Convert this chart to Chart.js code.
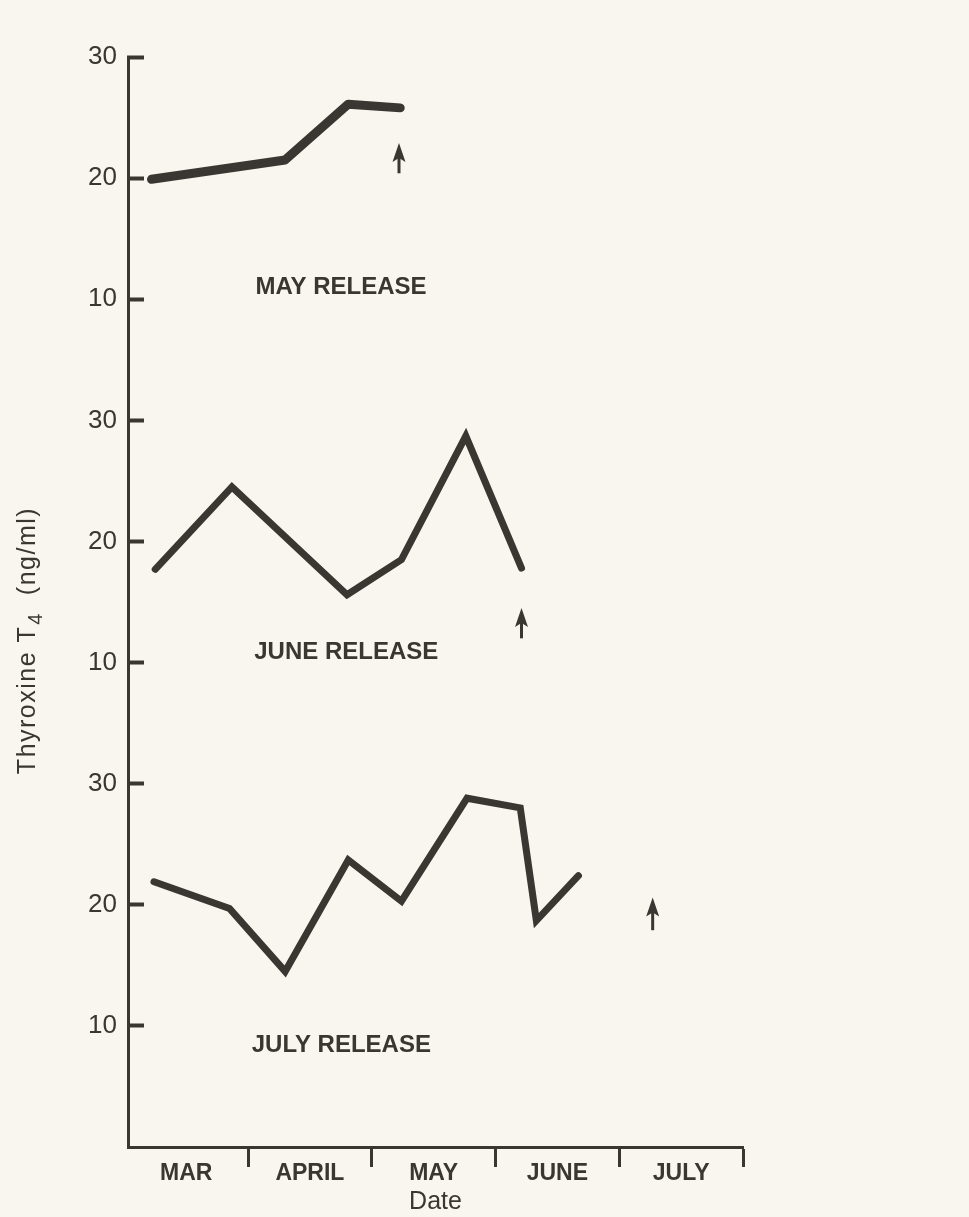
<!DOCTYPE html>
<html>
<head>
<meta charset="utf-8">
<script src="https://cdn.jsdelivr.net/npm/chart.js@4/dist/chart.umd.min.js"></script>
<style>
  html, body { margin: 0; padding: 0; background: #f8f6ee; }
  canvas { display: block; }
</style>
</head>
<body>
<canvas id="t4-chart" width="969" height="1217"></canvas>
<script>
// months counted from 1 March (0 = Mar 1, 1 = Apr 1, ...)
const monthLabels = ['MAR', 'APRIL', 'MAY', 'JUNE', 'JULY'];
const yTickValues = [10, 20, 30];

// May release
const mayX = [0.22, 1.30, 1.81, 2.23];
const mayY = [19.9, 21.5, 26.1, 25.8];
// June release
const juneX = [0.25, 0.87, 1.80, 2.24, 2.76, 3.21];
const juneY = [17.7, 24.5, 15.6, 18.5, 28.7, 17.8];
// July release
const julyX = [0.24, 0.85, 1.30, 1.81, 2.24, 2.77, 3.20, 3.33, 3.67];
const julyY = [21.9, 19.7, 14.5, 23.7, 20.3, 28.8, 28.0, 18.7, 22.4];

const panelNames = ['MAY RELEASE', 'JUNE RELEASE', 'JULY RELEASE'];
const panelOffsets = [60, 30, 0];   // panels stacked on one value axis
const nameX = [1.06, 1.05, 1.03];
const nameY = [11.0, 10.8, 8.4];

// release arrows: x position, tail and tip values
const arrowX = [2.22, 3.21, 4.27];
const arrowTail = [20.4, 12.0, 17.9];
const arrowTip = [22.9, 14.5, 20.6];

const ink = '#3a3632';
const font = 'Liberation Sans, Arial, Helvetica, sans-serif';

function series(xs, ys, offset) {
    return xs.map((x, i) => ({ x: x, y: ys[i] + offset }));
}

const annotations = {
    id: 'annotations',
    afterDatasetsDraw(chart) {
        const ctx = chart.ctx;
        const xs = chart.scales.x, ys = chart.scales.y;
        ctx.save();
        ctx.fillStyle = ink;
        ctx.strokeStyle = ink;

        // panel names
        ctx.font = 'bold 24px ' + font;
        ctx.textAlign = 'left';
        ctx.textBaseline = 'middle';
        panelNames.forEach((name, i) => {
            ctx.fillText(name, xs.getPixelForValue(nameX[i]), ys.getPixelForValue(nameY[i] + panelOffsets[i]));
        });

        // release arrows
        arrowX.forEach((ax, i) => {
            const px = xs.getPixelForValue(ax);
            const tail = ys.getPixelForValue(arrowTail[i] + panelOffsets[i]);
            const tip = ys.getPixelForValue(arrowTip[i] + panelOffsets[i]);
            ctx.lineWidth = 3;
            ctx.beginPath();
            ctx.moveTo(px, tail);
            ctx.lineTo(px, tip + 10);
            ctx.stroke();
            ctx.beginPath();
            ctx.moveTo(px, tip);
            ctx.lineTo(px + 6.5, tip + 19);
            ctx.lineTo(px, tip + 15);
            ctx.lineTo(px - 6.5, tip + 19);
            ctx.closePath();
            ctx.fill();
        });

        // y axis title with subscript
        ctx.translate(28, 641);
        ctx.rotate(-Math.PI / 2);
        ctx.textBaseline = 'middle';
        ctx.letterSpacing = '1.5px';
        const a = 'Thyroxine T', b = '4', c = '  (ng/ml)';
        ctx.font = '25px ' + font;
        const wa = ctx.measureText(a).width, wc = ctx.measureText(c).width;
        ctx.font = '20px ' + font;
        const wb = ctx.measureText(b).width;
        const x0 = -(wa + wb + wc) / 2;
        ctx.font = '25px ' + font;
        ctx.fillText(a, x0, 0);
        ctx.font = '20px ' + font;
        ctx.fillText(b, x0 + wa + 1, 8);
        ctx.font = '25px ' + font;
        ctx.fillText(c, x0 + wa + wb + 1, 0);
        ctx.restore();
    }
};

const lineStyle = {
    borderColor: ink,
    borderWidth: 7,
    borderCapStyle: 'round',
    borderJoinStyle: 'miter',
    pointRadius: 0,
    tension: 0,
    fill: false
};

new Chart(document.getElementById('t4-chart'), {
    type: 'scatter',
    data: {
        datasets: [
            Object.assign({ label: panelNames[0], data: series(mayX, mayY, panelOffsets[0]), showLine: true }, lineStyle, { borderWidth: 9, borderJoinStyle: 'round' }),
            Object.assign({ label: panelNames[1], data: series(juneX, juneY, panelOffsets[1]), showLine: true }, lineStyle),
            Object.assign({ label: panelNames[2], data: series(julyX, julyY, panelOffsets[2]), showLine: true }, lineStyle)
        ]
    },
    options: {
        responsive: false,
        devicePixelRatio: 1,
        animation: false,
        layout: { padding: { left: 0, top: 57, right: 226, bottom: 0 } },
        plugins: {
            legend: { display: false },
            tooltip: { enabled: false }
        },
        scales: {
            x: {
                type: 'linear',
                min: 0.03,
                max: 5,
                afterBuildTicks: scale => {
                    const t = [];
                    monthLabels.forEach((m, i) => {
                        t.push({ value: i + 0.5 });
                        t.push({ value: i + 1 });
                    });
                    scale.ticks = t;
                },
                afterFit: scale => { scale.height = 70; },
                border: { display: true, color: ink, width: 3 },
                grid: {
                    drawOnChartArea: false,
                    drawTicks: true,
                    tickLength: 20,
                    tickWidth: 3,
                    tickColor: ctx => (Number.isInteger(ctx.tick.value) ? ink : 'rgba(0,0,0,0)')
                },
                ticks: {
                    autoSkip: false,
                    maxRotation: 0,
                    padding: -7,
                    color: ink,
                    font: { family: font, size: 23, weight: 'bold' },
                    callback: v => (Number.isInteger(v) ? '' : monthLabels[Math.floor(v)])
                },
                title: {
                    display: true,
                    text: 'Date',
                    color: ink,
                    font: { family: font, size: 25 },
                    padding: { top: 0, bottom: 0 }
                }
            },
            y: {
                type: 'linear',
                min: 0,
                max: 90,
                afterBuildTicks: scale => {
                    const t = [];
                    panelOffsets.slice().reverse().forEach(off => {
                        yTickValues.forEach(v => t.push({ value: v + off }));
                    });
                    scale.ticks = t;
                },
                afterFit: scale => { scale.width = 128; },
                border: { display: true, color: ink, width: 3 },
                grid: {
                    drawOnChartArea: false,
                    drawTicks: true,
                    tickLength: -16,
                    tickWidth: 4,
                    tickColor: ink
                },
                ticks: {
                    padding: 27,
                    color: ink,
                    font: { family: font, size: 26 },
                    callback: v => (v % 30 === 0 ? 30 : v % 30)
                }
            }
        }
    },
    plugins: [annotations]
});
</script>
</body>
</html>
